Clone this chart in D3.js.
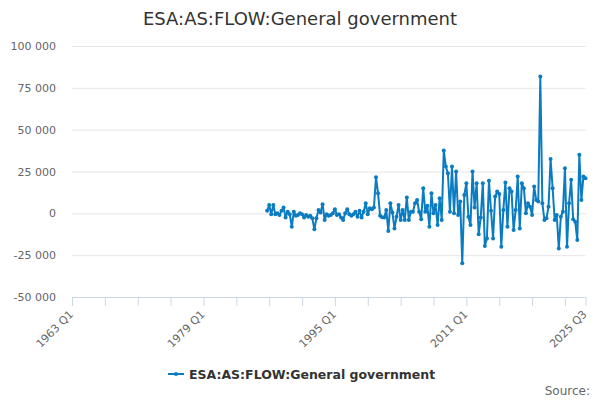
<html>
<head>
<script src="https://d3js.org/d3.v7.min.js"></script>
<style>
  body { margin: 0; background: #fff; }
  text { font-family: "DejaVu Sans", sans-serif; }
  .gridlines .domain { stroke: none; }
  .gridlines line { stroke: #e6e6e6; }
</style>
</head>
<body>
<svg id="chart" width="600" height="400"></svg>
<script>

const title = "ESA:AS:FLOW:General government";
const seriesName = "ESA:AS:FLOW:General government";

// category axis runs quarterly from the first to the last quarter
const firstYear = 1963, lastYear = 2025, lastQ = 3;
const dataStart = "1986 Q4";

const labelQuarters = ["1963 Q1", "1979 Q1", "1995 Q1", "2011 Q1", "2025 Q3"];
const yTicks = [-50000, -25000, 0, 25000, 50000, 75000, 100000];

// quarterly values from 1986 Q4 to 2025 Q3
const values = [
  1500, 5000, -500, 5000, -500, 0, -1000, 1500, 3500, -2500,
  1000, -500, -8000, 1000, -1500, -1000, 0, -500, -2500, -1000,
  -2000, -1500, -3000, -9500, -3000, 2000, 500, 5500, -4000, -500,
  -1500, -1000, 0, 2500, -1000, -500, -2500, -4000, 0, 2500,
  -500, -1500, -500, 1000, -2000, 1500, -2500, 1000, 6000, -500,
  3000, 2500, 3500,
  21500, 12000, -1500, -2300, -2500, 2000, -10500, 6000, 500, -9000,
  -2000, 5000, -4000, 2000, -4000, 9500, -4000, 1000, 1000, 6000,
  8000, 1000, -3500, 15000, 1000, 4500, -8000, 12000, 0, 5000,
  -7000, 9000, -4000,
  37500, 28000, 24000, 1000, 28000, 0, 25000, -1000, 7000, -29800,
  11000, 18000, -2000, -7000, 25000, 3500, 18000, -12500, -2500, 18000,
  -19500, -15000, 19500, 1500, -15000, 10000, 13000, 11500, -20000, 2000,
  18500, -8000, 15000, 13000, -10000, 2000, 22000, -9000, 18000, 15000,
  0, 6000, 4000, -1000, 16000, 8000, 7000,
  81800,
  6000, -4000, -3000, 4000, 32400, 15000, -4000, -1000, -21000, -2000,
  1000, 27000, -20000, 6000, 20000, -3500, -5000, -16000, 35000, 8000,
  22000, 21000
];

const quarters = [];
for (let y = firstYear; y <= lastYear; y++) {
  for (let q = 1; q <= 4; q++) {
    if (y === lastYear && q > lastQ) break;
    quarters.push(y + " Q" + q);
  }
}
const startIdx = quarters.indexOf(dataStart);
const points = values.map((v, i) => ({ q: quarters[startIdx + i], v: v }));

const svg = d3.select("#chart");
const plot = { left: 72, right: 585.5, top: 46, bottom: 297 };
const color = "#0b7cc1";

const xScale = d3.scalePoint().domain(quarters).range([plot.left, plot.right]);
const yScale = d3.scaleLinear().domain([-50000, 100000]).range([plot.bottom, plot.top]);

const fmt = d3.formatLocale({ decimal: ".", thousands: " ", grouping: [3], currency: ["", ""], minus: "-" }).format(",");

// title
svg.append("text")
  .attr("x", 300).attr("y", 25)
  .attr("text-anchor", "middle")
  .style("font-size", "18px")
  .style("fill", "#333333")
  .text(title);

// horizontal gridlines
svg.append("g")
  .attr("class", "gridlines")
  .attr("transform", `translate(${plot.left},0)`)
  .call(d3.axisLeft(yScale).tickValues(yTicks.slice(1)).tickSize(-(plot.right - plot.left)).tickFormat(""));

// y labels
svg.append("g").selectAll("text").data(yTicks)
  .join("text")
  .attr("x", 56)
  .attr("y", d => yScale(d) + 4)
  .attr("text-anchor", "end")
  .style("font-size", "11px")
  .style("fill", "#666666")
  .text(d => fmt(d));

// x axis: tick every 16 quarters plus the last one
const tickQuarters = quarters.filter((q, i) => i % 16 === 0 || i === quarters.length - 1);
const xAxis = svg.append("g")
  .attr("transform", `translate(0,${plot.bottom})`)
  .call(d3.axisBottom(xScale).tickValues(tickQuarters).tickSizeOuter(0).tickSize(9).tickFormat(""));
xAxis.select(".domain").attr("stroke", "#ccd6eb").attr("d", `M${plot.left},0.5H${plot.right}`);
xAxis.selectAll(".tick line").attr("stroke", "#ccd6eb");

svg.append("g").selectAll("text").data(labelQuarters)
  .join("text")
  .attr("text-anchor", "end")
  .attr("transform", d => `translate(${xScale(d) + 2},${plot.bottom + 18}) rotate(-45)`)
  .style("font-size", "11px")
  .style("fill", "#666666")
  .text(d => d);

// series
const line = d3.line().x(d => xScale(d.q)).y(d => yScale(d.v));
svg.append("path")
  .datum(points)
  .attr("d", line)
  .attr("fill", "none")
  .attr("stroke", color)
  .attr("stroke-width", 2)
  .attr("stroke-linejoin", "round");

svg.append("g").selectAll("circle").data(points)
  .join("circle")
  .attr("cx", d => xScale(d.q))
  .attr("cy", d => yScale(d.v))
  .attr("r", 2)
  .attr("fill", color);

// legend
const legend = svg.append("g").attr("transform", "translate(168,374)");
legend.append("line").attr("x1", 0).attr("x2", 16).attr("y1", 0).attr("y2", 0)
  .attr("stroke", color).attr("stroke-width", 2);
legend.append("circle").attr("cx", 8).attr("cy", 0).attr("r", 2).attr("fill", color);
legend.append("text")
  .attr("x", 21).attr("y", 4.5)
  .style("font-size", "12.5px")
  .style("font-weight", "bold")
  .style("fill", "#333333")
  .text(seriesName);

// source
svg.append("text")
  .attr("x", 590).attr("y", 395)
  .attr("text-anchor", "end")
  .style("font-size", "12px")
  .style("fill", "#666666")
  .text("Source:");

</script>
</body>
</html>
